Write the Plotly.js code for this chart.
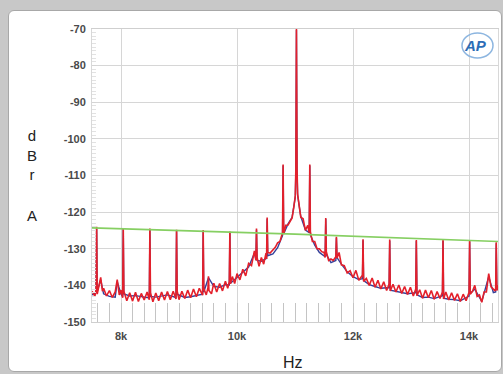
<!DOCTYPE html>
<html>
<head>
<meta charset="utf-8">
<script src="https://cdn.plot.ly/plotly-3.0.1.min.js"></script>
<style>
html,body{margin:0;padding:0;width:503px;height:374px;overflow:hidden;background:#c8c8c8;}
#panel{position:absolute;left:8px;top:10px;width:492px;height:360px;background:#fff;border:1px solid #a8a8a8;border-radius:6px;}
#chart{position:absolute;left:0;top:0;width:503px;height:374px;}
</style>
</head>
<body>
<div id="panel"></div>
<div id="chart"></div>
<script>
// ---- data (Hz, dBrA) ----
const redFreq = [7500,7550,7570,7580,7590,7620,7650,7680,7700,7750,7800,7850,7900,7935,7970,8000,
8029,8039,8049,8100,8150,8200,8250,8300,8350,8400,8450,8488,8498,8508,8550,8600,8650,8700,8750,8800,8850,8900,
8948,8958,8968,9000,9050,9100,9150,9200,9250,9300,9350,9407,9417,9427,9470,9500,9508,9516,9560,9600,9650,9700,9750,9800,9840,
9867,9877,9887,9920,9960,10000,10050,10100,10150,10200,10250,10300,10326,10336,10346,10380,10420,10460,10500,
10510,10520,10530,10570,10620,10660,10700,10740,10785,10795,10805,10840,10880,10920,10950,10980,11005,11015,11025,
11035,11045,11070,11100,11140,11180,11220,11245,11255,11265,11300,11340,11380,11420,11460,11500,11520,11530,11540,
11580,11620,11660,11704,11714,11724,11760,11800,11850,11900,11950,12000,12050,12100,12163,12173,12183,12230,12280,
12330,12380,12430,12480,12530,12580,12623,12633,12643,12690,12740,12790,12840,12890,12940,12990,13040,13082,13092,
13102,13150,13200,13250,13300,13350,13400,13450,13500,13542,13552,13562,13600,13650,13700,13750,13800,13850,13900,
13950,14001,14011,14021,14060,14100,14140,14180,14220,14260,14300,14340,14380,14420,14450,14460,14470,14480,14500];
const redDb = [-141.6,-143.0,-141.2,-124.0,-142.4,-140.2,-137.8,-141.6,-140.8,-142.9,-141.4,-143.3,-141.8,-138.4,-142.6,-141.3,
-143.4,-124.4,-141.6,-144.2,-142.0,-144.3,-141.9,-144.4,-142.2,-144.0,-141.8,-143.9,-124.5,-142.0,-144.5,-142.1,-144.2,-141.8,-144.0,-141.7,-143.9,-141.6,
-143.7,-124.8,-141.5,-143.9,-141.6,-143.6,-141.3,-143.4,-141.0,-143.1,-140.8,-142.7,-124.9,-140.9,-142.6,-140.6,-137.5,-141.4,-142.3,-139.4,-141.8,-139.5,-141.5,-138.9,-140.8,
-139.0,-125.3,-139.6,-137.6,-139.5,-136.8,-138.5,-135.6,-137.4,-134.0,-134.6,-130.6,-133.2,-124.5,-132.4,-134.8,-132.4,-134.2,-131.2,
-132.8,-121.5,-131.0,-131.2,-130.2,-129.6,-128.4,-128.0,-125.6,-107.0,-126.0,-123.6,-123.5,-122.6,-121.6,-118.6,-115.5,-108.0,-70.0,
-108.0,-115.0,-118.0,-121.4,-121.8,-125.0,-123.6,-125.6,-107.0,-125.4,-128.0,-128.0,-130.0,-130.0,-130.8,-131.0,-132.4,-121.6,-130.8,
-133.2,-132.8,-133.2,-132.2,-126.7,-132.6,-131.0,-134.4,-134.6,-136.6,-136.0,-137.9,-135.9,-138.6,-137.2,-127.4,-138.9,-138.1,-140.0,
-138.0,-140.5,-138.6,-141.0,-139.0,-141.4,-139.6,-127.5,-141.5,-139.7,-141.8,-139.9,-142.2,-140.3,-142.5,-140.5,-142.9,-141.0,-127.6,
-142.8,-141.2,-143.5,-141.3,-143.4,-141.4,-143.8,-141.7,-143.6,-141.8,-127.6,-143.7,-141.8,-144.0,-142.0,-144.1,-142.3,-144.4,-142.4,
-144.2,-141.9,-127.7,-142.4,-141.6,-140.0,-143.0,-142.6,-144.6,-141.8,-141.8,-136.8,-140.4,-141.0,-141.5,-140.8,-128.2,-141.4,-139.9];

const blueFreq = [7500,7570,7580,7590,7650,7700,7800,7900,7935,8000,8029,8039,8049,8150,8250,8350,8488,8498,8508,8600,8700,8800,
8948,8958,8968,9100,9200,9300,9407,9417,9427,9508,9600,9700,9800,9867,9877,9887,10000,10100,10200,10300,10326,10336,10346,10420,
10510,10520,10530,10620,10700,10785,10795,10805,10880,10950,11005,11015,11025,11035,11045,11100,11180,11245,11255,11265,11340,11420,
11520,11530,11540,11620,11704,11714,11724,11800,11900,12000,12100,12163,12173,12183,12280,12380,12480,12623,12633,12643,12740,12840,
12940,13082,13092,13102,13200,13300,13400,13542,13552,13562,13650,13750,13850,14001,14011,14021,14100,14220,14340,14420,14460,14470,14480,14500];
const blueDb = [-142.6,-141.9,-124.2,-141.6,-138.5,-142.3,-143.0,-143.2,-139.0,-142.4,-143.1,-124.6,-142.3,-142.9,-142.8,-143.1,-143.4,-124.7,-143.0,-143.2,-142.8,-142.6,
-143.3,-125.0,-142.4,-143.3,-143.1,-142.8,-142.4,-125.1,-141.8,-137.9,-140.3,-140.5,-139.8,-139.9,-125.5,-139.4,-137.8,-136.6,-135.0,-131.2,-132.9,-124.8,-133.2,-133.4,
-132.6,-121.8,-131.9,-131.4,-129.7,-126.4,-107.3,-125.9,-123.2,-121.4,-115.9,-108.5,-70.3,-108.5,-115.4,-121.2,-124.9,-125.6,-107.3,-126.2,-129.0,-131.0,
-132.2,-121.9,-131.6,-133.8,-133.2,-127.0,-132.4,-134.2,-136.3,-137.6,-138.4,-138.2,-127.7,-138.7,-139.8,-140.3,-140.8,-140.6,-127.8,-141.3,-141.6,-142.0,
-142.3,-142.0,-127.9,-142.6,-143.3,-143.2,-143.6,-142.8,-127.9,-143.5,-143.8,-143.9,-144.2,-142.9,-128.0,-142.2,-141.0,-144.4,-137.6,-142.0,-141.8,-128.5,-141.2,-140.9];

const limitFreq = [7500, 11000, 14500];
const limitDb = [-124.3, -126.0, -128.0];

const xTickVals = [8000, 10000, 12000, 14000];
const xTickText = ['8k', '10k', '12k', '14k'];
const yTickVals = [-150, -140, -130, -120, -110, -100, -90, -80, -70];
const yTickText = ['-150', '-140', '-130', '-120', '-110', '-100', '-90', '-80', '-70'];

const traces = [
  {x: blueFreq, y: blueDb, type: 'scatter', mode: 'lines', line: {color: '#34409a', width: 1.4}, hoverinfo: 'skip'},
  {x: redFreq, y: redDb, type: 'scatter', mode: 'lines', line: {color: '#e3202b', width: 1.6}, hoverinfo: 'skip'},
  {x: limitFreq, y: limitDb, type: 'scatter', mode: 'lines', line: {color: '#86cf62', width: 1.6}, hoverinfo: 'skip'}
];

const tickFont = {family: 'Liberation Sans, Arial, sans-serif', size: 11, color: '#4a4a4a', weight: 'bold'};

const layout = {
  width: 503, height: 374,
  margin: {l: 92, r: 5, t: 29, b: 52},
  paper_bgcolor: 'rgba(0,0,0,0)',
  plot_bgcolor: '#ffffff',
  showlegend: false,
  xaxis: {
    range: [7500, 14500], tickvals: xTickVals, ticktext: xTickText,
    showgrid: true, gridcolor: '#d6d6d6', gridwidth: 1, zeroline: false,
    ticks: 'inside', ticklen: 19, tickcolor: '#c4c4c4',
    minor: {dtick: 200, tick0: 0, ticks: 'inside', ticklen: 19, tickcolor: '#c4c4c4', showgrid: false},
    showline: true, linecolor: '#cfcfcf', mirror: true,
    tickfont: tickFont, ticklabelstandoff: 4
  },
  yaxis: {
    range: [-150, -70], tickvals: yTickVals, ticktext: yTickText,
    showgrid: true, gridcolor: '#d6d6d6', gridwidth: 1, zeroline: false,
    ticks: 'inside', ticklen: 4, tickcolor: '#d4d4d4',
    minor: {dtick: 1, tick0: 0, ticks: 'inside', ticklen: 4, tickcolor: '#e2e2e2', showgrid: false},
    showline: true, linecolor: '#d8d8d8', mirror: true,
    tickfont: tickFont, ticklabelstandoff: 3
  },
  annotations: [
    {text: 'd<br>B<br>r', xref: 'paper', yref: 'paper', x: (32 - 92) / 406, y: 1 - (155 - 29) / 293, xanchor: 'center', yanchor: 'middle', showarrow: false,
     font: {family: 'Liberation Sans, Arial, sans-serif', size: 15, color: '#222'}},
    {text: 'A', xref: 'paper', yref: 'paper', x: (32 - 92) / 406, y: 1 - (215 - 29) / 293, xanchor: 'center', yanchor: 'middle', showarrow: false,
     font: {family: 'Liberation Sans, Arial, sans-serif', size: 15, color: '#222'}},
    {text: 'Hz', xref: 'paper', yref: 'paper', x: (293 - 92) / 406, y: 1 - (362 - 29) / 293, xanchor: 'center', yanchor: 'middle', showarrow: false,
     font: {family: 'Liberation Sans, Arial, sans-serif', size: 16, color: '#222'}},
    {text: '<b><i>AP</i></b>', xref: 'paper', yref: 'paper', x: (475 - 92) / 406, y: 1 - (45 - 29) / 293, xanchor: 'center', yanchor: 'middle', showarrow: false,
     font: {family: 'Liberation Sans, Arial, sans-serif', size: 15, color: '#2d6db6'}}
  ],
  shapes: [
    {type: 'circle', xref: 'paper', yref: 'paper', x0: (462 - 92) / 406, x1: (493 - 92) / 406, y0: 1 - (58 - 29) / 293, y1: 1 - (33 - 29) / 293,
     line: {color: '#8db6e0', width: 1.5}}
  ]
};

Plotly.newPlot('chart', traces, layout, {staticPlot: true, displayModeBar: false});
</script>
</body>
</html>
